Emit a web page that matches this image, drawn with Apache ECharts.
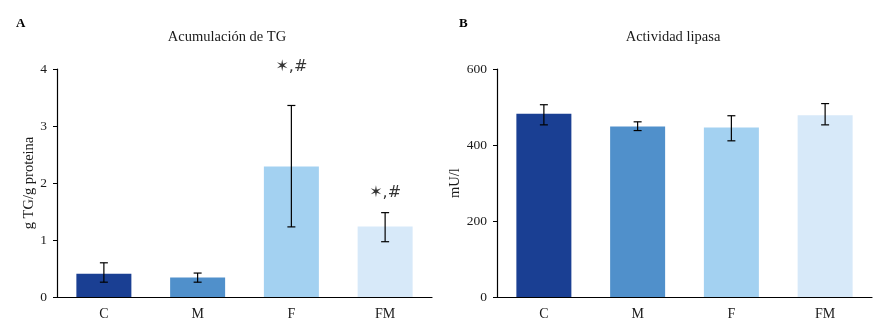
<!DOCTYPE html>
<html><head><meta charset="utf-8">
<script src="https://cdn.jsdelivr.net/npm/echarts@6/dist/echarts.min.js"></script>
<style>html,body{margin:0;padding:0;background:#fff}#c{width:887px;height:332px}</style>
</head><body><div id="c"></div>
<script>
const categories = ['C', 'M', 'F', 'FM'];
const barColors = ['#1a3f93', '#5090cb', '#a3d1f1', '#d7e9f9'];
// Panel A: TG accumulation
const tgMean = [0.41, 0.34, 2.29, 1.235];
const tgLow = [0.26, 0.26, 1.23, 0.97];
const tgHigh = [0.60, 0.42, 3.36, 1.48];
const tgSig = ['', '', '\u2736,#', '\u2736,#'];
const tgSigY = [null, null, 4.03, 1.82];
// Panel B: lipase activity
const lipMean = [482, 449, 446, 478];
const lipLow = [453, 438, 411, 453];
const lipHigh = [506, 461, 477, 509];

const FONT = 'Liberation Serif';
const TXT = '#1a1a1a';

function errSeries(xi, yi, low, high) {
  return {
    type: 'custom', xAxisIndex: xi, yAxisIndex: yi, z: 10,
    data: categories.map((c, i) => [i, low[i], high[i]]),
    renderItem: function (params, api) {
      const x = api.value(0);
      const lo = api.coord([x, api.value(1)]);
      const hi = api.coord([x, api.value(2)]);
      const hw = 4;
      const st = { stroke: '#000', lineWidth: 1.2 };
      return { type: 'group', children: [
        { type: 'line', shape: { x1: lo[0], y1: lo[1], x2: hi[0], y2: hi[1] }, style: st },
        { type: 'line', shape: { x1: lo[0] - hw, y1: lo[1], x2: lo[0] + hw, y2: lo[1] }, style: st },
        { type: 'line', shape: { x1: hi[0] - hw, y1: hi[1], x2: hi[0] + hw, y2: hi[1] }, style: st }
      ]};
    }
  };
}

function xAxis(gi) {
  return {
    type: 'category', gridIndex: gi, data: categories,
    axisLine: { lineStyle: { color: '#000', width: 1.2 } },
    axisTick: { alignWithLabel: true, length: 5, lineStyle: { color: '#000' } },
    axisLabel: { color: TXT, fontFamily: FONT, fontSize: 14, margin: 10 }
  };
}
function yAxis(gi, max, interval, name, gap) {
  return {
    type: 'value', gridIndex: gi, min: 0, max: max, interval: interval,
    name: name, nameLocation: 'middle', nameGap: gap, nameRotate: 90,
    nameTextStyle: { color: TXT, fontFamily: FONT, fontSize: 14.5 },
    splitLine: { show: false },
    axisLine: { show: true, lineStyle: { color: '#000', width: 1.2 } },
    axisTick: { show: true, length: 4, lineStyle: { color: '#000' } },
    axisLabel: { color: TXT, fontFamily: FONT, fontSize: 13.5, margin: 10 }
  };
}

const chart = echarts.init(document.getElementById('c'), null, { renderer: 'canvas' });
chart.setOption({
  animation: false,
  backgroundColor: '#fff',
  title: [
    { text: 'A', left: 11, top: 12, textStyle: { fontFamily: FONT, fontSize: 13, fontWeight: 'bold', color: '#000' } },
    { text: 'Acumulación de TG', left: 222, top: 25, textAlign: 'center', textStyle: { fontFamily: FONT, fontSize: 14.5, fontWeight: 'normal', color: TXT } },
    { text: 'B', left: 454, top: 12, textStyle: { fontFamily: FONT, fontSize: 13, fontWeight: 'bold', color: '#000' } },
    { text: 'Actividad lipasa', left: 668, top: 25, textAlign: 'center', textStyle: { fontFamily: FONT, fontSize: 14.5, fontWeight: 'normal', color: TXT } }
  ],
  grid: [
    { left: 57, right: 455, top: 69, bottom: 35 },
    { left: 497, right: 15, top: 69, bottom: 35 }
  ],
  xAxis: [xAxis(0), xAxis(1)],
  yAxis: [yAxis(0, 4, 1, 'g TG/g proteina', 14), yAxis(1, 600, 200, 'mU/l', 25)],
  series: [
    { type: 'bar', xAxisIndex: 0, yAxisIndex: 0, barWidth: 55,
      data: tgMean.map((v, i) => ({ value: v, itemStyle: { color: barColors[i] } })) },
    errSeries(0, 0, tgLow, tgHigh),
    { type: 'scatter', xAxisIndex: 0, yAxisIndex: 0, symbolSize: 0, z: 11, clip: false,
      data: tgSigY.map((v, i) => v == null ? null : [i, v, tgSig[i]]).filter(d => d),
      label: { show: true, position: 'inside', formatter: p => p.data[2],
        fontFamily: 'DejaVu Sans, ' + FONT, fontSize: 16, color: '#000' } },
    { type: 'bar', xAxisIndex: 1, yAxisIndex: 1, barWidth: 55,
      data: lipMean.map((v, i) => ({ value: v, itemStyle: { color: barColors[i] } })) },
    errSeries(1, 1, lipLow, lipHigh)
  ]
});
</script></body></html>
